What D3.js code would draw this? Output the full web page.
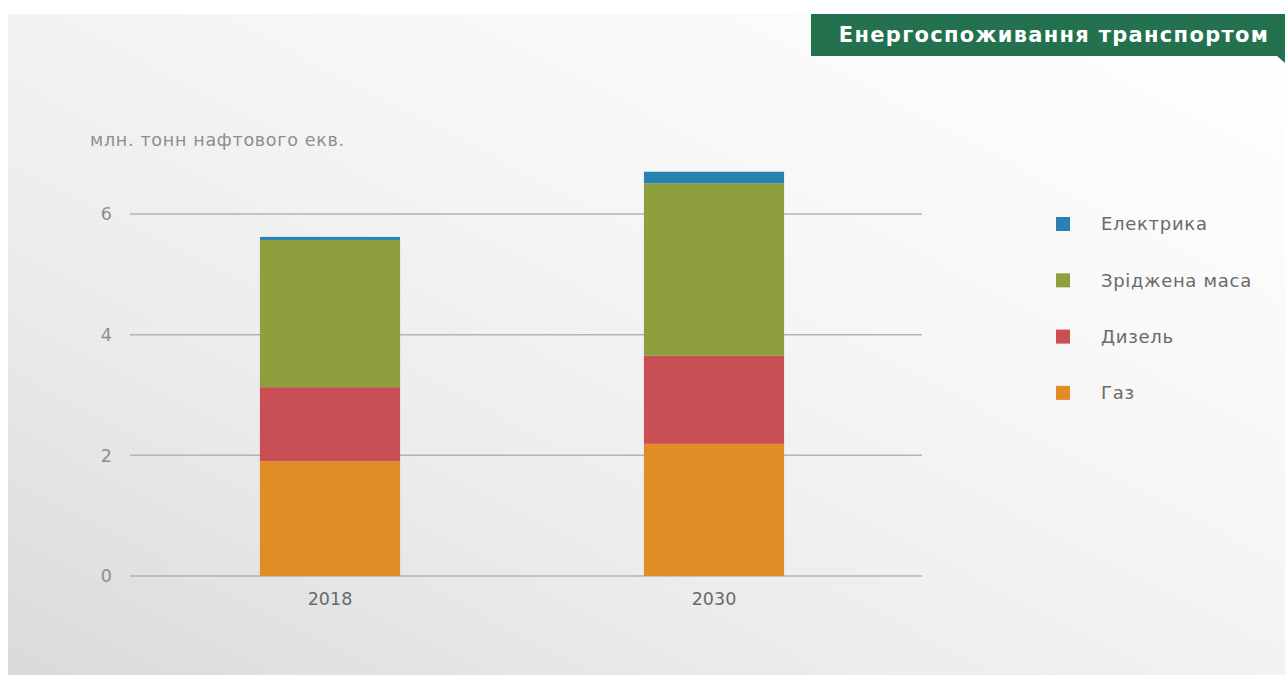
<!DOCTYPE html>
<html>
<head>
<meta charset="utf-8">
<script src="https://cdn.jsdelivr.net/npm/d3@7"></script>
<style>
  body { margin: 0; background: #fff; }
  svg { display: block; font-family: "DejaVu Sans", sans-serif; }
</style>
</head>
<body>
<script>
const years = ["2018", "2030"];
const seriesNames = ["Газ", "Дизель", "Зріджена маса", "Електрика"];
const gas = [1.9, 2.19];
const diesel = [1.23, 1.46];
const lpg = [2.44, 2.86];
const electric = [0.05, 0.19];
const yTicks = [0, 2, 4, 6];
const colors = ["#e28c25", "#c94f54", "#8f9f3e", "#2a82b0"];

const W = 1285, H = 675;

const svg = d3.select("body").append("svg")
  .attr("width", W)
  .attr("height", H);

// background panel
const defs = svg.append("defs");
const grad = defs.append("linearGradient")
  .attr("id", "bg")
  .attr("x1", 0).attr("y1", 1)
  .attr("x2", 1).attr("y2", 0);
grad.append("stop").attr("offset", "0%").attr("stop-color", "#d9dada");
grad.append("stop").attr("offset", "30%").attr("stop-color", "#ebebeb");
grad.append("stop").attr("offset", "60%").attr("stop-color", "#f6f6f6");
grad.append("stop").attr("offset", "100%").attr("stop-color", "#ffffff");

svg.append("rect")
  .attr("x", 8).attr("y", 14)
  .attr("width", W - 8).attr("height", H - 14)
  .attr("fill", "url(#bg)");

// title tab
svg.append("rect")
  .attr("x", 811).attr("y", 14)
  .attr("width", W - 811).attr("height", 42)
  .attr("fill", "#23714e");
svg.append("path")
  .attr("d", `M1277,56 L1285,56 L1285,63 Z`)
  .attr("fill", "#23714e");
svg.append("text")
  .attr("x", 1054).attr("y", 42)
  .attr("text-anchor", "middle")
  .attr("fill", "#fff")
  .style("font-size", "21px")
  .style("font-weight", 700)
  .style("letter-spacing", "1.3px")
  .text("Енергоспоживання транспортом");

// data table for stacking
const table = years.map((year, i) => ({
  year,
  "Газ": gas[i],
  "Дизель": diesel[i],
  "Зріджена маса": lpg[i],
  "Електрика": electric[i]
}));
const stacked = d3.stack().keys(seriesNames)(table);

const x = d3.scaleBand()
  .domain(years)
  .range([138, 906])
  .paddingInner(0.635)
  .paddingOuter(0.3175);

const y = d3.scaleLinear()
  .domain([0, 6])
  .range([576, 214]);

// grid
svg.append("g")
  .selectAll("line")
  .data(yTicks)
  .join("line")
  .attr("x1", 130).attr("x2", 922)
  .attr("y1", d => y(d)).attr("y2", d => y(d))
  .attr("stroke", "#b3b3b5")
  .attr("stroke-width", 1.5);

// y axis labels
const yAxis = svg.append("g")
  .attr("transform", "translate(112,0)")
  .call(d3.axisLeft(y).tickValues(yTicks).tickFormat(d3.format("d")).tickSize(0).tickPadding(0));
yAxis.select(".domain").remove();
yAxis.selectAll("text")
  .attr("fill", "#8e8e8e")
  .style("font-size", "17.5px")
  .style("font-family", "'DejaVu Sans', sans-serif")
  .attr("dy", "0.33em");

// x axis labels
const xAxis = svg.append("g")
  .attr("transform", "translate(0,588)")
  .call(d3.axisBottom(x).tickSize(0).tickPadding(0));
xAxis.select(".domain").remove();
xAxis.selectAll("text")
  .attr("fill", "#6a6a6a")
  .style("font-size", "17.5px")
  .style("font-family", "'DejaVu Sans', sans-serif")
  .attr("dy", "0.95em");

// bars
svg.append("g")
  .selectAll("g")
  .data(stacked)
  .join("g")
  .attr("fill", (d, i) => colors[i])
  .selectAll("rect")
  .data(d => d)
  .join("rect")
  .attr("x", d => x(d.data.year))
  .attr("y", d => y(d[1]))
  .attr("width", x.bandwidth())
  .attr("height", d => y(d[0]) - y(d[1]));

// unit label
svg.append("text")
  .attr("x", 90).attr("y", 146)
  .attr("fill", "#8e8e8e")
  .style("font-size", "17.5px")
  .style("letter-spacing", "0.7px")
  .text("млн. тонн нафтового екв.");

// legend
const legendOrder = seriesNames.map((n, i) => ({ name: n, color: colors[i] })).reverse();
const legend = svg.append("g")
  .selectAll("g")
  .data(legendOrder)
  .join("g")
  .attr("transform", (d, i) => `translate(1056,${224 + i * 56.3})`);
legend.append("rect")
  .attr("x", 0).attr("y", -7)
  .attr("width", 14).attr("height", 14)
  .attr("fill", d => d.color);
legend.append("text")
  .attr("x", 45).attr("y", 0)
  .attr("dy", "0.35em")
  .attr("fill", "#6a6a6a")
  .style("font-size", "18px")
  .style("letter-spacing", "0.7px")
  .text(d => d.name);
</script>
</body>
</html>
